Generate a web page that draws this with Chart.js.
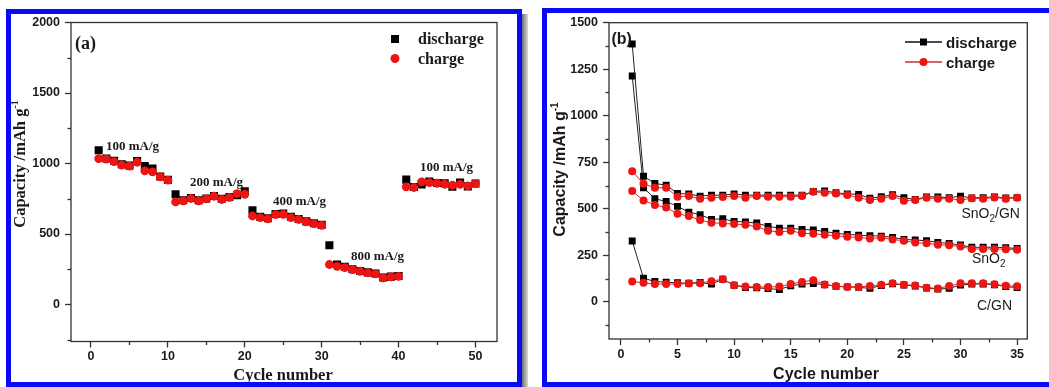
<!DOCTYPE html>
<html><head><meta charset="utf-8">
<script src="https://cdn.jsdelivr.net/npm/chart.js@4.4.1/dist/chart.umd.min.js"></script>
<style>
html,body{margin:0;padding:0;background:#fff;width:1049px;height:387px;overflow:hidden;}
#wrapA{position:absolute;left:0;top:0;width:525px;height:387px;}
#wrapB{position:absolute;left:525px;top:0;width:524px;height:387px;}
.frame{position:absolute;border:5px solid #0a0af5;box-sizing:border-box;pointer-events:none;}
</style></head><body>
<div id="wrapA"><canvas id="ca" width="525" height="387"></canvas></div>
<div id="wrapB"><canvas id="cb" width="524" height="387"></canvas></div>
<div class="frame" style="left:6px;top:9px;width:516px;height:378px;"></div>
<div style="position:absolute;left:522px;top:14px;width:6px;height:373px;background:linear-gradient(to right,#707070,#d8d8d8);"></div>
<div class="frame" style="left:542px;top:8px;width:520px;height:379px;"></div>
<script>
// ---------- Panel (a) data ----------
const cyclesA = [1,2,3,4,5,6,7,8,9,10,11,12,13,14,15,16,17,18,19,20,21,22,23,24,25,26,27,28,29,30,31,32,33,34,35,36,37,38,39,40,41,42,43,44,45,46,47,48,49,50];
const dischargeA = [1094,1035,1020,995,985,1018,983,964,908,885, 782,740,755,740,752,770,750,762,775,803, 669,622,612,642,645,622,606,590,577,565, 420,284,268,250,238,228,220,192,198,202, 886,834,852,872,862,860,836,866,838,858];
const chargeA = [1035,1031,1014,988,981,1009,948,941,905,882, 728,735,752,735,749,768,745,759,787,782, 628,617,607,638,640,617,603,586,574,562, 284,270,262,248,236,225,218,189,196,200, 834,830,870,865,860,853,846,852,842,858];
const rateLabelsA = ["100 mA/g","200 mA/g","400 mA/g","800 mA/g","100 mA/g"];
const xTicksA = [0,10,20,30,40,50];
const yTicksA = [0,500,1000,1500,2000];
const minorXA = [5,15,25,35,45];
const minorYA = [-250,250,750,1250,1750];

// ---------- Panel (b) data ----------
const cyclesB = [1,2,3,4,5,6,7,8,9,10,11,12,13,14,15,16,17,18,19,20,21,22,23,24,25,26,27,28,29,30,31,32,33,34,35];
const gnDischarge = [1386,675,636,627,582,579,568,573,573,579,573,573,573,573,573,573,593,596,586,580,577,556,565,575,559,550,564,564,559,568,558,560,564,558,560];
const gnCharge = [702,634,613,613,564,568,554,559,563,568,559,568,565,565,565,568,591,586,582,574,559,547,554,568,543,547,559,554,554,547,556,554,561,554,559];
const snDischarge = [1214,613,554,539,513,482,468,443,446,432,429,423,405,396,395,389,386,378,368,362,358,355,353,346,335,332,328,319,314,305,293,293,293,291,286];
const snCharge = [595,545,520,507,473,461,439,425,421,418,414,404,382,375,382,368,366,360,355,349,346,340,344,335,328,318,314,307,304,297,284,284,284,283,280];
const cDischarge = [327,127,109,105,102,100,104,95,121,89,77,75,71,66,86,95,98,92,83,80,78,72,88,97,90,85,74,68,72,90,95,96,92,82,76];
const cCharge = [109,102,95,96,95,98,100,111,121,89,82,80,79,82,95,107,116,93,85,80,80,85,92,99,92,88,76,72,85,99,99,99,94,86,84];
const xTicksB = [0,5,10,15,20,25,30,35];
const yTicksB = [0,250,500,750,1000,1250,1500];
const minorXB = [2.5,7.5,12.5,17.5,22.5,27.5,32.5];
const minorYB = [-125,125,375,625,875,1125,1375];

const BLACK = '#000000', RED = '#ee1414';
const SERIF = '"Liberation Serif", "Times New Roman", serif';
const SANS = '"Liberation Sans", Arial, sans-serif';

function pts(xs, ys){ return xs.map((x,i)=>({x:x, y:ys[i]})); }

function richText(ctx, x, y, segs, align){
  let w = 0;
  segs.forEach(s=>{ ctx.font = s.f; w += ctx.measureText(s.t).width; });
  let cx = align === 'center' ? x - w/2 : x;
  ctx.textAlign = 'left'; ctx.textBaseline = 'alphabetic';
  segs.forEach(s=>{ ctx.font = s.f; ctx.fillText(s.t, cx, y + (s.dy||0)); cx += ctx.measureText(s.t).width; });
}
function rotText(ctx, x, y, segs){
  ctx.save(); ctx.translate(x, y); ctx.rotate(-Math.PI/2);
  richText(ctx, 0, 0, segs, 'center'); ctx.restore();
}
function frameAndMinor(chart, mx, my){
  const ctx = chart.ctx, a = chart.chartArea, sx = chart.scales.x, sy = chart.scales.y;
  ctx.save(); ctx.strokeStyle = '#333'; ctx.lineWidth = 1.3;
  mx.forEach(v=>{ const p = Math.round(sx.getPixelForValue(v))+0.5; ctx.beginPath(); ctx.moveTo(p, a.bottom); ctx.lineTo(p, a.bottom+3.5); ctx.stroke(); });
  my.forEach(v=>{ const p = Math.round(sy.getPixelForValue(v))+0.5; ctx.beginPath(); ctx.moveTo(a.left, p); ctx.lineTo(a.left-3.5, p); ctx.stroke(); });
  ctx.strokeRect(a.left, a.top, a.right-a.left, a.bottom-a.top);
  ctx.restore();
}
function square(ctx, x, y, s, c){ ctx.fillStyle = c; ctx.fillRect(x-s/2, y-s/2, s, s); }
function dot(ctx, x, y, r, c){ ctx.fillStyle = c; ctx.beginPath(); ctx.arc(x, y, r, 0, Math.PI*2); ctx.fill(); }

function axisCommon(min, max, tickVals, afterFit, pad){
  return {
    type:'linear', min:min, max:max,
    border:{display:false},
    grid:{display:true, drawOnChartArea:false, drawTicks:true, tickLength:6, tickColor:'#333', tickWidth:1.3},
    ticks:{autoSkip:false, maxRotation:0, padding:pad,
           color:'#1a1a1a', font:{family:SANS, size:12.5, weight:'bold'},
           callback:(v)=>String(v)},
    afterBuildTicks:(scale)=>{ scale.ticks = tickVals.map(v=>({value:v})); },
    afterFit: afterFit
  };
}

// ---------- Chart (a) ----------
const pluginA = {
  id:'decorA',
  afterDraw(chart){
    const ctx = chart.ctx;
    frameAndMinor(chart, minorXA, minorYA);
    ctx.fillStyle = '#1a1a1a';
    richText(ctx, 75, 49, [{t:'(a)', f:'bold 18px '+SERIF}], 'left');
    square(ctx, 395, 39, 8, BLACK);
    dot(ctx, 395, 58.5, 4.5, RED);
    ctx.fillStyle = '#1a1a1a';
    richText(ctx, 418, 44, [{t:'discharge', f:'bold 16px '+SERIF}], 'left');
    richText(ctx, 418, 63.5, [{t:'charge', f:'bold 16px '+SERIF}], 'left');
    const f = 'bold 13px '+SERIF;
    const pos = [[106,149.5],[190,186],[273,204.5],[351,259.5],[420,171]];
    rateLabelsA.forEach((t,i)=>richText(ctx, pos[i][0], pos[i][1], [{t:t, f:f}], 'left'));
    rotText(ctx, 25, 164, [{t:'Capacity /mAh g', f:'bold 16.5px '+SERIF}, {t:'-1', f:'bold 10px '+SERIF, dy:-7}]);
    richText(ctx, 283, 380, [{t:'Cycle number', f:'bold 16.5px '+SERIF}], 'center');
  }
};
new Chart(document.getElementById('ca'), {
  type:'scatter',
  data:{datasets:[
    {label:'discharge', data:pts(cyclesA, dischargeA), order:2, pointStyle:'rect', pointRadius:5.7, pointBorderWidth:0, backgroundColor:BLACK, borderColor:BLACK, showLine:false},
    {label:'charge', data:pts(cyclesA, chargeA), order:1, pointStyle:'circle', pointRadius:4.4, pointBorderWidth:0, backgroundColor:RED, borderColor:RED, showLine:false}
  ]},
  options:{
    responsive:false, animation:false, events:[],
    layout:{padding:{left:0, top:22.5, right:28, bottom:0}},
    plugins:{legend:{display:false}, tooltip:{enabled:false}},
    scales:{
      x: axisCommon(-2.6, 52.8, xTicksA, s=>{ s.height = 45.5; }, 2),
      y: axisCommon(-262, 2000, yTicksA, s=>{ s.width = 71; }, 5)
    }
  },
  plugins:[pluginA]
});

// ---------- Chart (b) ----------
const pluginB = {
  id:'decorB',
  afterDraw(chart){
    const ctx = chart.ctx;
    frameAndMinor(chart, minorXB, minorYB);
    ctx.fillStyle = '#1a1a1a';
    richText(ctx, 86.5, 44, [{t:'(b)', f:'bold 16px '+SANS}], 'left');
    ctx.save(); ctx.lineWidth = 1.3;
    ctx.strokeStyle = '#111'; ctx.beginPath(); ctx.moveTo(380, 42); ctx.lineTo(417, 42); ctx.stroke();
    ctx.strokeStyle = '#c83030'; ctx.beginPath(); ctx.moveTo(380, 62); ctx.lineTo(417, 62); ctx.stroke();
    ctx.restore();
    square(ctx, 398.5, 42, 7, BLACK);
    dot(ctx, 398.5, 62, 4, RED);
    ctx.fillStyle = '#1a1a1a';
    richText(ctx, 421, 47.5, [{t:'discharge', f:'bold 15px '+SANS}], 'left');
    richText(ctx, 421, 67.5, [{t:'charge', f:'bold 15px '+SANS}], 'left');
    const f = '14px '+SANS, fs = '10px '+SANS;
    richText(ctx, 436.5, 218, [{t:'SnO', f:f},{t:'2', f:fs, dy:4},{t:'/GN', f:f}], 'left');
    richText(ctx, 447, 263, [{t:'SnO', f:f},{t:'2', f:fs, dy:4}], 'left');
    richText(ctx, 452, 310, [{t:'C/GN', f:f}], 'left');
    rotText(ctx, 40, 169.5, [{t:'Capacity /mAh g', f:'bold 16px '+SANS}, {t:'-1', f:'bold 10px '+SANS, dy:-7}]);
    richText(ctx, 301, 378.5, [{t:'Cycle number', f:'bold 16px '+SANS}], 'center');
  }
};
function lineDs(label, ys, isCharge){
  return {
    label:label, data:pts(cyclesB, ys), order: isCharge ? 1 : 2,
    showLine:true, borderWidth:1, borderColor: isCharge ? '#c83030' : '#222',
    pointStyle: isCharge ? 'circle' : 'rect', pointRadius: isCharge ? 4 : 4.9,
    pointBorderWidth:0, pointBackgroundColor: isCharge ? RED : BLACK, backgroundColor: isCharge ? RED : BLACK
  };
}
new Chart(document.getElementById('cb'), {
  type:'scatter',
  data:{datasets:[
    lineDs('SnO2/GN discharge', gnDischarge, false),
    lineDs('SnO2 discharge', snDischarge, false),
    lineDs('C/GN discharge', cDischarge, false),
    lineDs('SnO2/GN charge', gnCharge, true),
    lineDs('SnO2 charge', snCharge, true),
    lineDs('C/GN charge', cCharge, true)
  ]},
  options:{
    responsive:false, animation:false, events:[],
    layout:{padding:{left:0, top:22.7, right:21.7, bottom:0}},
    plugins:{legend:{display:false}, tooltip:{enabled:false}},
    scales:{
      x: axisCommon(-1.05, 35.9, xTicksB, s=>{ s.height = 48; }, 2),
      y: axisCommon(-200, 1500, yTicksB, s=>{ s.width = 84; }, 5)
    }
  },
  plugins:[pluginB]
});
</script>
</body></html>
